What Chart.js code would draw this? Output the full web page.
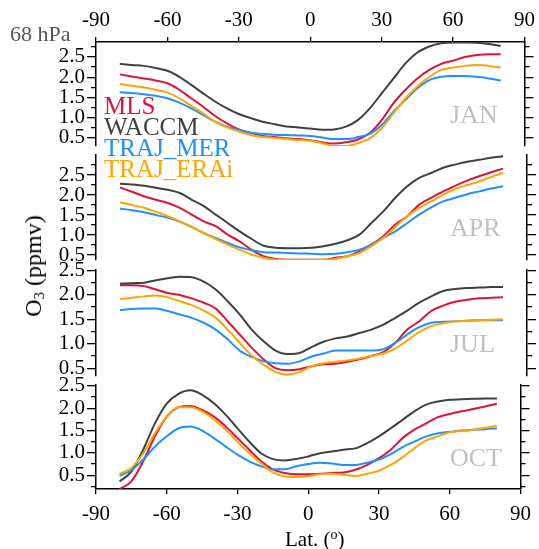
<!DOCTYPE html>
<html>
<head>
<meta charset="utf-8">
<script src="https://cdn.jsdelivr.net/npm/chart.js@4/dist/chart.umd.min.js"></script>
<style>
  body { margin: 0; background: #fff; }
  #wrap { position: relative; width: 539px; height: 549px; overflow: hidden; font-family: 'Liberation Serif', 'DejaVu Serif', serif; }
  #wrap canvas { position: absolute; left: 0; }
  .lbl { position: absolute; white-space: nowrap; line-height: 1; }
</style>
</head>
<body>
<div id="wrap">
  <canvas id="p1" width="539" height="162" style="top:0px"></canvas>
  <canvas id="p2" width="539" height="137" style="top:139px"></canvas>
  <canvas id="p3" width="539" height="138" style="top:254px"></canvas>
  <canvas id="p4" width="539" height="160" style="top:369px"></canvas>

  <div class="lbl" style="left:10px;top:23px;font-size:22px;color:#555">68 hPa</div>
  <div id="legend"></div>
  <div id="months"></div>
  <div class="lbl" style="left:34px;top:266px;font-size:24px;transform:translate(-50%,-50%) rotate(-90deg)">O<sub style="font-size:15px;vertical-align:-3px">3</sub> (ppmv)</div>
  <div class="lbl" style="left:285px;top:528px;font-size:21px">Lat. (<span style="font-size:14px;vertical-align:7px">o</span>)</div>
</div>

<script>
const lat = [-80, -75, -70, -65, -60, -55, -50, -45, -40, -35, -30, -25, -20, -15, -10, -5, 0,
             5, 10, 15, 20, 25, 30, 35, 40, 45, 50, 55, 60, 65, 70, 75, 80];

const seriesNames = ['MLS', 'WACCM', 'TRAJ_MER', 'TRAJ_ERAi'];
const months = ['JAN', 'APR', 'JUL', 'OCT'];

const xTicks = [-90, -60, -30, 0, 30, 60, 90];
const yMajor = [0.5, 1.0, 1.5, 2.0, 2.5];
const yMinor = [0.25, 0.75, 1.25, 1.75, 2.25, 2.75];

// JAN
const janMLS   = [2.07,2.02,1.97,1.92,1.85,1.69,1.48,1.27,1.04,0.86,0.71,0.62,0.55,0.52,0.49,0.47,0.44,0.39,0.36,0.39,0.46,0.62,0.94,1.36,1.69,1.97,2.18,2.33,2.41,2.50,2.55,2.57,2.57];
const janWACCM = [2.33,2.30,2.28,2.23,2.16,2.01,1.81,1.60,1.40,1.23,1.09,0.99,0.90,0.84,0.78,0.76,0.73,0.70,0.71,0.78,0.94,1.23,1.60,1.97,2.34,2.61,2.76,2.84,2.86,2.86,2.85,2.82,2.77];
const janMER   = [1.63,1.61,1.58,1.54,1.48,1.37,1.23,1.07,0.90,0.78,0.70,0.63,0.60,0.58,0.57,0.56,0.55,0.51,0.47,0.47,0.52,0.60,0.82,1.15,1.44,1.73,1.93,2.01,2.03,2.03,2.01,1.97,1.92];
const janERAi  = [1.83,1.79,1.75,1.69,1.62,1.48,1.29,1.11,0.90,0.76,0.66,0.57,0.52,0.50,0.47,0.45,0.43,0.37,0.30,0.30,0.37,0.49,0.74,1.11,1.48,1.77,2.01,2.18,2.24,2.28,2.30,2.28,2.24];

// APR
const aprMLS   = [2.19,2.08,1.97,1.88,1.80,1.68,1.51,1.34,1.22,1.01,0.84,0.63,0.47,0.40,0.38,0.38,0.38,0.38,0.43,0.47,0.59,0.76,0.97,1.26,1.47,1.76,1.93,2.09,2.23,2.36,2.47,2.57,2.66];
const aprWACCM = [2.28,2.26,2.23,2.18,2.13,2.05,1.88,1.72,1.51,1.30,1.09,0.90,0.73,0.68,0.67,0.67,0.68,0.72,0.78,0.87,1.01,1.30,1.59,1.93,2.22,2.43,2.55,2.68,2.76,2.83,2.88,2.93,2.97];
const aprMER   = [1.66,1.62,1.57,1.50,1.43,1.33,1.20,1.05,0.93,0.80,0.69,0.62,0.57,0.56,0.55,0.54,0.53,0.52,0.53,0.57,0.63,0.76,0.93,1.09,1.30,1.51,1.69,1.84,1.93,2.02,2.09,2.16,2.22];
const aprERAi  = [1.82,1.75,1.68,1.58,1.47,1.34,1.20,1.05,0.90,0.76,0.63,0.51,0.43,0.38,0.38,0.38,0.38,0.38,0.40,0.47,0.55,0.72,0.93,1.20,1.47,1.68,1.84,2.01,2.15,2.25,2.34,2.45,2.55];

// JUL
const julMLS   = [2.20,2.20,2.18,2.11,2.04,2.00,1.93,1.84,1.72,1.46,1.19,0.92,0.68,0.50,0.46,0.48,0.54,0.58,0.59,0.63,0.68,0.75,0.83,1.02,1.29,1.46,1.67,1.78,1.86,1.90,1.93,1.94,1.95];
const julWACCM = [2.23,2.24,2.25,2.30,2.34,2.37,2.36,2.27,2.11,1.87,1.60,1.29,1.05,0.86,0.79,0.81,0.93,1.04,1.11,1.15,1.22,1.29,1.39,1.53,1.68,1.84,1.97,2.08,2.12,2.14,2.15,2.16,2.16];
const julMER   = [1.69,1.71,1.72,1.72,1.67,1.60,1.53,1.43,1.29,1.09,0.86,0.73,0.64,0.60,0.59,0.64,0.74,0.80,0.86,0.86,0.86,0.86,0.89,1.02,1.19,1.34,1.43,1.45,1.46,1.47,1.48,1.48,1.48];
const julERAi  = [1.91,1.94,1.97,1.99,1.95,1.87,1.79,1.68,1.53,1.29,1.02,0.76,0.57,0.42,0.37,0.42,0.54,0.60,0.63,0.66,0.70,0.75,0.80,0.90,1.07,1.24,1.36,1.42,1.46,1.47,1.48,1.49,1.50];

// OCT
const octMLS   = [0.19,0.36,0.81,1.37,1.81,2.02,2.05,1.96,1.81,1.59,1.33,1.07,0.81,0.63,0.55,0.52,0.52,0.53,0.55,0.56,0.62,0.73,0.88,1.07,1.33,1.52,1.66,1.80,1.87,1.93,1.98,2.04,2.10];
const octWACCM = [0.36,0.58,1.07,1.66,2.10,2.32,2.40,2.30,2.11,1.85,1.55,1.25,0.99,0.86,0.83,0.86,0.92,0.99,1.03,1.07,1.10,1.22,1.37,1.55,1.74,1.93,2.08,2.15,2.19,2.20,2.21,2.22,2.22];
const octMER   = [0.49,0.61,0.85,1.14,1.37,1.55,1.59,1.50,1.33,1.14,0.96,0.81,0.70,0.63,0.63,0.70,0.75,0.78,0.76,0.73,0.73,0.78,0.85,0.97,1.13,1.25,1.37,1.44,1.47,1.50,1.52,1.53,1.55];
const octERAi  = [0.53,0.66,0.99,1.44,1.81,2.02,2.02,1.93,1.75,1.52,1.25,0.99,0.77,0.56,0.47,0.46,0.48,0.52,0.53,0.51,0.48,0.53,0.60,0.73,0.90,1.10,1.28,1.37,1.46,1.49,1.52,1.56,1.61];

const colors = ['#dc143c', '#404040', '#1e90ff', '#ffa500'];
const FONT = "'Liberation Serif', 'DejaVu Serif', serif";

// y range of each panel and where its x axis sits
const panels = [
  { id: 'p1', min: 0.30,  max: 2.87, xPos: 'top',    data: [janMLS, janWACCM, janMER, janERAi] },
  { id: 'p2', min: 0.375, max: 3.00, xPos: null,     data: [aprMLS, aprWACCM, aprMER, aprERAi] },
  { id: 'p3', min: 0.34,  max: 2.51, xPos: null,     data: [julMLS, julWACCM, julMER, julERAi] },
  { id: 'p4', min: 0.19,  max: 2.52, xPos: 'bottom', data: [octMLS, octWACCM, octMER, octERAi] },
];

function fixedTicks(list, min, max) {
  return scale => {
    scale.ticks = list.filter(v => v >= min - 1e-9 && v <= max + 1e-9).map(v => ({ value: v }));
  };
}

function yAxis(p, side, major) {
  return {
    type: 'linear',
    position: side,
    min: p.min,
    max: p.max,
    weight: major ? 1 : 0,
    afterBuildTicks: fixedTicks(major ? yMajor : yMinor, p.min, p.max),
    afterFit: s => { s.width = major ? (side === 'left' ? 96 : 12) : 0; },
    ticks: {
      display: major && side === 'left',
      autoSkip: false,
      color: '#000',
      padding: 2,
      font: { family: FONT, size: 21 },
      callback: v => Number(v).toFixed(1)
    },
    grid: { drawOnChartArea: false, color: '#000', lineWidth: 1.3, tickLength: major ? 9 : 5 },
    border: { display: major, color: '#000', width: 1.5 }
  };
}

function makePanel(p) {
  const datasets = seriesNames.map((name, i) => ({
    label: name,
    data: lat.map((x, k) => ({ x, y: p.data[i][k] })),
    borderColor: colors[i],
    borderWidth: 2,
    pointRadius: 0,
    cubicInterpolationMode: 'monotone',
    fill: false,
    order: 4 - i
  }));

  const x = {
    type: 'linear',
    min: -90,
    max: 90,
    display: !!p.xPos,
    position: p.xPos || 'bottom',
    afterBuildTicks: fixedTicks(xTicks, -90, 90),
    afterFit: s => { if (p.xPos) s.height = p.xPos === 'top' ? 42 : 40; },
    ticks: { color: '#000', autoSkip: false, padding: p.xPos === 'top' ? 4 : 8, maxRotation: 0, font: { family: FONT, size: 21 } },
    grid: { drawOnChartArea: false, color: '#000', lineWidth: 1.3, tickLength: 5 },
    border: { color: '#000', width: 1.5 }
  };

  new Chart(document.getElementById(p.id), {
    type: 'line',
    data: { datasets },
    options: {
      responsive: false,
      animation: false,
      events: [],
      layout: { padding: { top: p.xPos === 'top' ? 0 : 16, bottom: p.xPos === 'bottom' ? 0 : 16, left: 0, right: 0 } },
      plugins: { legend: { display: false }, tooltip: { enabled: false } },
      scales: {
        x,
        y: yAxis(p, 'left', true),
        yMinorL: yAxis(p, 'left', false),
        yR: yAxis(p, 'right', true),
        yMinorR: yAxis(p, 'right', false)
      }
    }
  });
}

panels.forEach(makePanel);

// legend text, coloured like the lines
const legendTops = [92.6, 113.8, 134.9, 156.1];
document.getElementById('legend').innerHTML = seriesNames.map((n, i) =>
  `<div class="lbl" style="left:104px;top:${legendTops[i]}px;font-size:25px;color:${colors[i]}">${n}</div>`
).join('');

// month tags
const monthTops = [101.5, 214.9, 330.9, 444.9];
document.getElementById('months').innerHTML = months.map((m, i) =>
  `<div class="lbl" style="left:450px;top:${monthTops[i]}px;font-size:26px;color:#c0c0c0">${m}</div>`
).join('');
</script>
</body>
</html>
